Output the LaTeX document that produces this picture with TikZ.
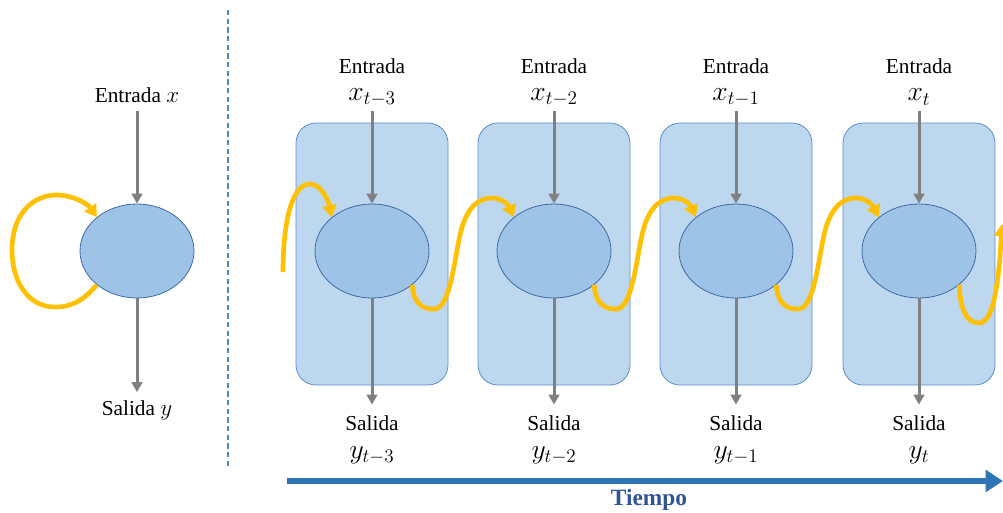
\documentclass[tikz,border=0pt]{standalone}
\usepackage{fontspec}
\setmainfont{Liberation Serif}
\usetikzlibrary{shapes.geometric,arrows.meta}

\definecolor{cellfill}{HTML}{9DC3E6}
\definecolor{celledge}{HTML}{3E6AA6}
\definecolor{boxfill}{HTML}{BDD7EE}
\definecolor{boxedge}{HTML}{5B8FCB}
\definecolor{flowgray}{HTML}{808080}
\definecolor{recurcol}{HTML}{FFC000}
\definecolor{timeblue}{HTML}{2E75B6}
\definecolor{timetext}{HTML}{2F5597}

\tikzset{
  cell/.style={ellipse, draw=celledge, fill=cellfill, line width=0.6pt,
    minimum width=85.5pt, minimum height=70.5pt},
  unfold/.style={rectangle, rounded corners=15pt, draw=boxedge, fill=boxfill,
    line width=0.6pt, minimum width=114pt, minimum height=196.5pt},
  flow/.style={draw=flowgray, line width=2.25pt, -{Triangle[length=7.5pt,width=8pt]}},
  recur/.style={draw=recurcol, line width=3.5pt, -{Triangle[length=9pt,width=10.5pt]}},
  lbl/.style={font=\fontsize{16}{19}\selectfont, inner sep=0pt},
  sublbl/.style={font=\fontsize{20}{22}\selectfont, inner sep=0pt},
}

\begin{document}
\begin{tikzpicture}[x=0.75pt,y=-0.75pt]
\useasboundingbox (0,0) rectangle (1003,512);

% folded network
\node[cell] (e0) at (137,251) {};
\node[lbl] (in0) at (137,95) {Entrada \fontsize{17.5}{20}\selectfont$x$};
\node[lbl] (out0) at (137,410) {Salida \fontsize{17.5}{20}\selectfont$y$};
\draw[flow,shorten <=6pt] (in0) -- (e0);
\draw[flow,shorten >=6pt] (e0) -- (out0);
\draw[recur] (e0.-140) .. controls (80,305) and (66,307) .. (55,307)
  .. controls (27,307) and (12,280) .. (12,250)
  .. controls (12,216) and (31,195) .. (57,195)
  .. controls (73,195) and (88,204) .. (e0.140);

\draw[timeblue!85,dash pattern=on 4pt off 2.5pt,line width=0.9pt] (228,10) -- (228,468);

% unfolded network
\foreach \i/\cx/\s in {1/372/t-3,2/554/t-2,3/736/t-1,4/919/t}{
  \node[unfold] (box\i) at (\cx,254) {};
  \node[cell] (e\i) at (\cx,251) {};
  \node[lbl] (in\i) at (\cx,66) {Entrada};
  \node[sublbl] (x\i) at (\cx,97) {$x_{\s}$};
  \node[lbl] (out\i) at (\cx,423) {Salida};
  \node[sublbl] (y\i) at (\cx,455) {$y_{\s}$};
  \draw[flow,shorten <=4pt] (x\i) -- (e\i);
  \draw[flow,shorten >=8pt] (e\i) -- (out\i);
}

\coordinate (first) at (283,272);
\draw[recur] (first) .. controls (283,225) and (291,184) .. (310,184)
  .. controls (322,184) and (329,203) .. (e1.140);
\foreach \i/\j/\cx in {1/2/372,2/3/554,3/4/736}
  \draw[recur] (e\i.-40) .. controls (\cx+41,302) and (\cx+50,310) .. (\cx+63,309)
    .. controls (\cx+78,307) and (\cx+82,262) .. (\cx+88,235)
    .. controls (\cx+94,208) and (\cx+106,198) .. (\cx+120,198)
    .. controls (\cx+131,198) and (\cx+137,206) .. (e\j.140);
\coordinate (last) at (1002,224);
\draw[recur] (e4.-40) .. controls (960,308) and (966,323) .. (979,323)
  .. controls (995,323) and (999,275) .. (last);

% time axis
\coordinate (t0) at (287,481);
\coordinate (t1) at (1003,481);
\draw[timeblue,line width=4.5pt,-{Triangle[length=13pt,width=16pt]}] (t0) -- (t1);
\node[font=\fontsize{17.5}{20}\selectfont\bfseries,text=timetext] (tiempo) at (649,500) {Tiempo};
\end{tikzpicture}
\end{document}
